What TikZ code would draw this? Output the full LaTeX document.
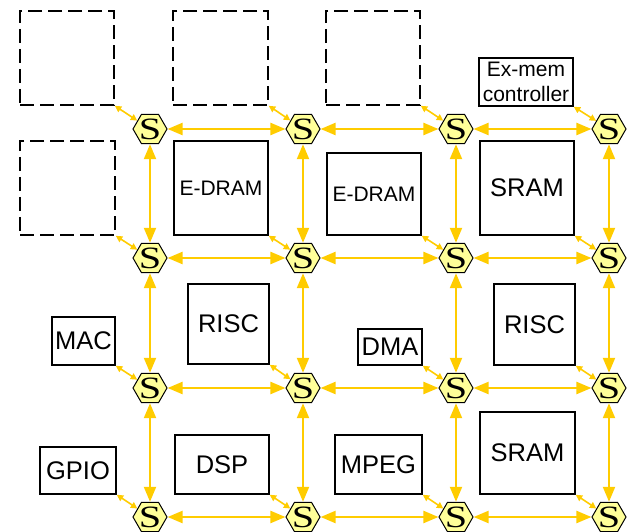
\documentclass[tikz,border=0pt]{standalone}
\usepackage{fontspec}
\setmainfont{Liberation Sans}
\newfontfamily\sfont[FakeStretch=1.3]{Liberation Serif}
\usetikzlibrary{shapes.geometric,arrows.meta}
\definecolor{gold}{HTML}{FFCC00}
\definecolor{hexfill}{HTML}{FFFF99}
\tikzset{
 bighead/.tip={Triangle[length=15pt,width=12pt]},
 smallhead/.tip={Triangle[length=6.5pt,width=6.5pt]},
}
\begin{document}
\begin{tikzpicture}[x=1pt,y=-1pt,
 sw/.style={regular polygon, regular polygon sides=6, minimum size=34pt, inner sep=0pt, draw=black, line width=1pt, fill=hexfill},
 stxt/.style={inner sep=0pt, font=\sfont\fontsize{31}{31}\selectfont},
 blk/.style={draw=black, line width=1.5pt, inner sep=0pt, align=center, font=\fontsize{25.5}{28}\selectfont},
 smalltxt/.style={font=\fontsize{21}{25}\selectfont},
 dbox/.style={draw=black, line width=1.6pt, dash pattern=on 14pt off 6pt, inner sep=0pt},
 link/.style={draw=gold, line width=2.2pt, arrows={bighead-bighead}},
 tap/.style={draw=gold, line width=1.6pt, arrows={smallhead-smallhead}},
]
\useasboundingbox (0,0) rectangle (627,532);
\clip (0,0) rectangle (627,532);

% dashed placeholders
\node[dbox, minimum width=94pt, minimum height=94pt] (d1) at (67,58) {};
\node[dbox, minimum width=95pt, minimum height=94pt] (d2) at (220.5,58) {};
\node[dbox, minimum width=94pt, minimum height=94pt] (d4) at (373,58) {};
\node[dbox, minimum width=95pt, minimum height=94pt] (d3) at (67.5,188) {};

% blocks
\node[blk, smalltxt, minimum width=94pt, minimum height=48pt] (exm) at (526,82) {Ex-mem\\controller};
\node[blk, smalltxt, minimum width=94pt, minimum height=94pt] (ed1) at (221,188) {E-DRAM};
\node[blk, smalltxt, minimum width=94pt, minimum height=82pt] (ed2) at (374,194) {E-DRAM};
\node[blk, minimum width=94pt, minimum height=94pt] (sr1) at (527,188) {SRAM};
\node[blk, minimum width=63pt, minimum height=48pt] (mac) at (83.5,341) {MAC};
\node[blk, minimum width=81pt, minimum height=80pt] (ri1) at (228.5,324) {RISC};
\node[blk, minimum width=64pt, minimum height=36pt] (dma) at (390,347) {DMA};
\node[blk, minimum width=81pt, minimum height=81pt] (ri2) at (534.5,324.5) {RISC};
\node[blk, minimum width=76pt, minimum height=47pt] (gpio) at (78,470.5) {GPIO};
\node[blk, minimum width=94pt, minimum height=59pt] (dsp) at (222,464.5) {DSP};
\node[blk, minimum width=87pt, minimum height=59pt] (mpeg) at (378.5,464.5) {MPEG};
\node[blk, minimum width=95pt, minimum height=82pt] (sr2) at (527.5,453) {SRAM};

% switches
\foreach \r/\y in {1/129,2/258,3/388,4/517}{
  \foreach \c/\x in {1/150,2/303,3/456,4/609}{
    \node[sw] (s\r\c) at (\x,\y) {};
    \node[stxt] (t\r\c) at (s\r\c.center) {S};
  }
}

% mesh links
\foreach \r in {1,2,3,4}{
  \draw[link] (s\r1) -- (s\r2);
  \draw[link] (s\r2) -- (s\r3);
  \draw[link] (s\r3) -- (s\r4);
}
\foreach \c in {1,2,3,4}{
  \draw[link] (s1\c) -- (s2\c);
  \draw[link] (s2\c) -- (s3\c);
  \draw[link] (s3\c) -- (s4\c);
}

% taps
\draw[tap] (d1.south east) -- (s11);
\draw[tap] (d2.south east) -- (s12);
\draw[tap] (d4.south east) -- (s13);
\draw[tap] (exm.south east) -- (s14);
\draw[tap] (d3.south east) -- (s21);
\draw[tap] (ed1.south east) -- (s22);
\draw[tap] (ed2.south east) -- (s23);
\draw[tap] (sr1.south east) -- (s24);
\draw[tap] (mac.south east) -- (s31);
\draw[tap] (ri1.south east) -- (s32);
\draw[tap] (dma.south east) -- (s33);
\draw[tap] (ri2.south east) -- (s34);
\draw[tap] (gpio.south east) -- (s41);
\draw[tap] (dsp.south east) -- (s42);
\draw[tap] (mpeg.south east) -- (s43);
\draw[tap] (sr2.south east) -- (s44);
\end{tikzpicture}
\end{document}
